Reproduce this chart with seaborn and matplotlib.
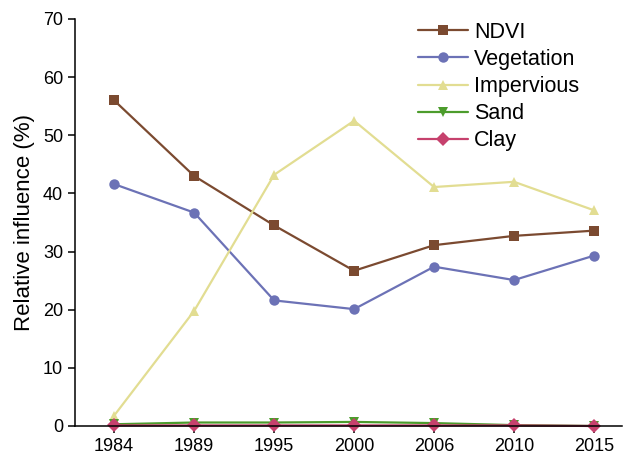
import matplotlib
matplotlib.use("Agg")
import matplotlib.pyplot as plt
import seaborn as sns
import pandas as pd

# values
years = ["1984", "1989", "1995", "2000", "2006", "2010", "2015"]
ndvi = [56.0, 43.0, 34.5, 26.7, 31.1, 32.7, 33.6]
vegetation = [41.6, 36.7, 21.6, 20.1, 27.4, 25.1, 29.3]
impervious = [1.8, 19.8, 43.2, 52.5, 41.1, 42.0, 37.1]
sand = [0.3, 0.6, 0.6, 0.7, 0.5, 0.15, 0.0]
clay = [0.1, 0.1, 0.1, 0.1, 0.1, 0.1, 0.0]

series_names = ["NDVI", "Vegetation", "Impervious", "Sand", "Clay"]
palette = {"NDVI": "#7b4a30", "Vegetation": "#6c72b6", "Impervious": "#e2dd92",
           "Sand": "#4c9c2c", "Clay": "#c6416d"}
markers = {"NDVI": "s", "Vegetation": "o", "Impervious": "^", "Sand": "v", "Clay": "D"}

df = pd.DataFrame({
    "Year": years * 5,
    "Series": sum([[n] * len(years) for n in series_names], []),
    "Value": ndvi + vegetation + impervious + sand + clay,
})

sns.set_style("ticks")
plt.rcParams["font.family"] = ["Liberation Sans", "DejaVu Sans"]
plt.rcParams["text.color"] = "black"
plt.rcParams["axes.labelcolor"] = "black"

fig = plt.figure(figsize=(6.25, 4.58), dpi=100)
ax = fig.add_axes([75 / 625, 32 / 458, 547 / 625, 407 / 458])

sns.lineplot(data=df, x="Year", y="Value", hue="Series", style="Series",
             hue_order=series_names, style_order=series_names,
             palette=palette, markers=markers, dashes=False,
             markersize=7.5, markeredgewidth=0, linewidth=1.6,
             sort=False, ax=ax, clip_on=False)

ax.set_xlim(-0.49, 6.35)
ax.set_ylim(0, 70)
ax.set_yticks(range(0, 71, 10))
ax.set_xlabel("")
ax.set_ylabel("Relative influence (%)", fontsize=16, labelpad=6)
ax.tick_params(axis="both", labelsize=13, length=5, width=1.1, color="black",
               labelcolor="black")
for s in ["top", "right"]:
    ax.spines[s].set_visible(False)
for s in ["left", "bottom"]:
    ax.spines[s].set_linewidth(1.1)
    ax.spines[s].set_color("black")

handles, labels = ax.get_legend_handles_labels()
ax.legend(handles, labels, loc="upper left", frameon=False,
          bbox_to_anchor=(418 / 625, 1 - 22 / 458), bbox_transform=fig.transFigure,
          borderaxespad=0, borderpad=0, fontsize=15.5, handlelength=2.3,
          handletextpad=0.3, labelspacing=0.28)

fig.savefig("out.png", dpi=100)
